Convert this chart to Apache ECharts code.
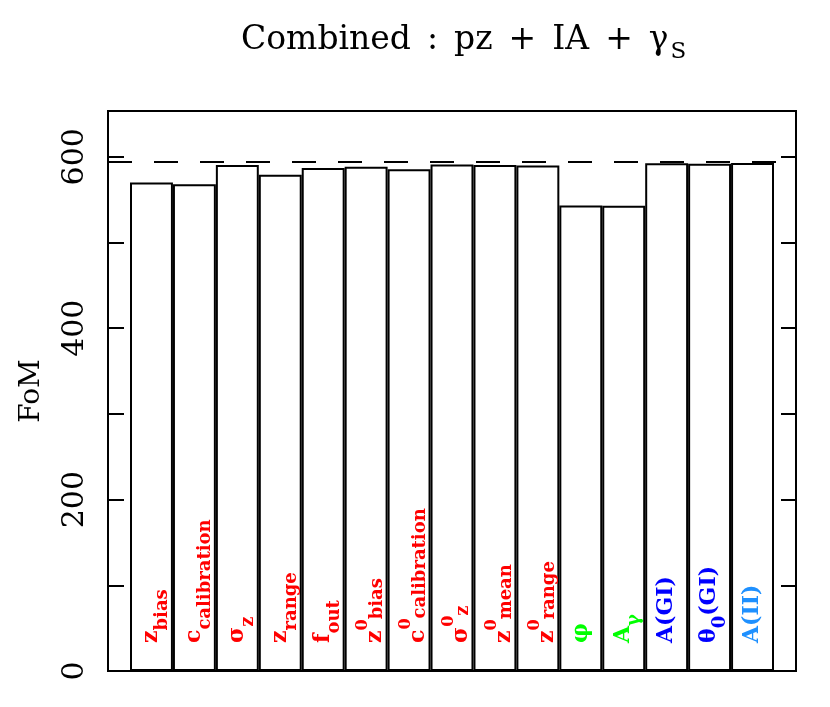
<!DOCTYPE html>
<html>
<head>
<meta charset="utf-8">
<script src="https://cdn.jsdelivr.net/npm/echarts@6/dist/echarts.min.js"></script>
<style>
html,body{margin:0;padding:0;background:#fff;}
#chart{width:830px;height:707px;}
</style>
</head>
<body>
<div id="chart"></div>
<script>
// ---- data ----
var categories = ['z_bias','c_calibration','sigma_z','z_range','f_out','z0_bias','c0_calibration','sigma0_z','z0_mean','z0_range','phi','A_gamma','A(GI)','theta0(GI)','A(II)'];
// label parts: [base, superscript, subscript, tail]
var labelParts = [
  ['z','','bias',''],
  ['c','','calibration',''],
  ['σ','','z',''],
  ['z','','range',''],
  ['f','','out',''],
  ['z','0','bias',''],
  ['c','0','calibration',''],
  ['σ','0','z',''],
  ['z','0','mean',''],
  ['z','0','range',''],
  ['φ','','',''],
  ['A','','γ',''],
  ['A(GI)','','',''],
  ['θ','','0','(GI)'],
  ['A(II)','','','']
];
var paramGroups = ['pz','pz','pz','pz','pz','pz','pz','pz','pz','pz','gamma','gamma','GI','GI','II'];
var fomValues = [570.1, 567.8, 590.3, 579.0, 586.8, 588.3, 585.3, 591.1, 590.3, 589.9, 543.0, 542.8, 592.3, 591.8, 592.6];
var fiducialFoM = 594;
var yMax = 653.4;
var yTickStep = 100;
var yLabelStep = 200;
var titleWords = ['Combined', ':', 'pz', '+', 'IA', '+'];
var titleLast = 'γ';
var titleSub = 'S';
var yName = 'FoM';

// ---- styles ----
var groupColors = {pz:'#ff0000', gamma:'#00ff00', GI:'#0000ff', II:'#1e90ff'};
var FONT = 'DejaVu Serif';

function richLabel(p){
  var mk = p[1] ? 'M' : 'm';
  var s = '{' + mk + '|' + p[0] + '}';
  if (p[1]) s += '{sp|' + p[1] + '}';
  if (p[2]) s += '{sb|' + p[2] + '}';
  if (p[3]) s += '{' + mk + '|' + p[3] + '}';
  return s;
}

var barData = fomValues.map(function(v, i){
  return {
    value: v,
    label: { formatter: richLabel(labelParts[i]), color: groupColors[paramGroups[i]] }
  };
});

var titleText = titleWords.map(function(w){ return '{a|' + w + '}'; }).join('') +
                '{g|' + titleLast + '}{s|' + titleSub + '}';

var chart = echarts.init(document.getElementById('chart'), null, {renderer:'canvas'});
var option = {
  animation: false,
  backgroundColor: '#fff',
  title: {
    text: titleText,
    left: 236, top: 19,
    textStyle: {
      fontWeight: 'normal',
      rich: {
        a: {fontFamily: FONT, fontWeight: 'normal', fontSize: 33, color: '#000', lineHeight: 36, padding:[0,16,0,0], verticalAlign:'top'},
        g: {fontFamily: FONT, fontWeight: 'normal', fontSize: 33, color: '#000', lineHeight: 36, padding:[0,2,0,0], verticalAlign:'top'},
        s: {fontFamily: FONT, fontWeight: 'normal', fontSize: 23, color: '#000', lineHeight: 24, padding:[17,0,0,0], verticalAlign:'top'}
      }
    }
  },
  grid: [
    {left: 130, right: 56, top: 111, bottom: 36, outerBoundsMode: 'none'},
    {left: 108, right: 34, top: 111, bottom: 36, show: true, borderColor: '#000', borderWidth: 2, backgroundColor: 'transparent', outerBoundsMode: 'none'}
  ],
  xAxis: [
    {type: 'category', gridIndex: 0, data: categories, show: false},
    {type: 'value', gridIndex: 1, min: 0, max: 1, show: false}
  ],
  yAxis: [
    {type: 'value', gridIndex: 0, min: 0, max: yMax, show: false},
    {type: 'value', gridIndex: 1, min: 0, max: yMax, interval: yTickStep, position: 'left',
     name: yName, nameLocation: 'middle', nameGap: 62, nameRotate: 90,
     nameTextStyle: {fontFamily: FONT, fontSize: 28, color: '#000', verticalAlign: 'bottom', align: 'center'},
     axisLine: {show: false},
     axisTick: {show: true, inside: true, length: 16, lineStyle: {color: '#000', width: 2}},
     axisLabel: {show: true, rotate: 90, margin: 18, fontFamily: FONT, fontSize: 30, color: '#000',
                 align: 'center', verticalAlign: 'bottom',
                 formatter: function(v){ return (Math.abs(v % yLabelStep) < 1e-6) ? String(v) : ''; }},
     splitLine: {show: false}},
    {type: 'value', gridIndex: 1, min: 0, max: yMax, interval: yTickStep, position: 'right',
     axisLine: {show: false},
     axisTick: {show: true, inside: true, length: 15, lineStyle: {color: '#000', width: 2}},
     axisLabel: {show: false}, splitLine: {show: false}}
  ],
  series: [
    {
      type: 'bar', xAxisIndex: 0, yAxisIndex: 0,
      barWidth: '100%', barCategoryGap: 0,
      data: barData,
      itemStyle: {color: '#fff', borderColor: '#000', borderWidth: 2},
      label: {
        show: true, position: 'insideBottom', rotate: 90, distance: 28,
        align: 'left', verticalAlign: 'middle',
        fontFamily: FONT, fontWeight: 'bold',
        rich: {
          m: {fontFamily: FONT, fontWeight: 'bold', fontSize: 22, lineHeight: 22, padding: [0,0,0,0], verticalAlign: 'top'},
          M: {fontFamily: FONT, fontWeight: 'bold', fontSize: 22, lineHeight: 22, padding: [9,0,0,0], verticalAlign: 'top'},
          sp: {fontFamily: FONT, fontWeight: 'bold', fontSize: 16, lineHeight: 16, padding: [0,0,0,0], verticalAlign: 'top'},
          sb: {fontFamily: FONT, fontWeight: 'bold', fontSize: 18, lineHeight: 18, padding: [13,0,0,0], verticalAlign: 'top'}
        }
      },
      silent: true
    },
    {
      type: 'line', xAxisIndex: 1, yAxisIndex: 1,
      data: [[0, fiducialFoM], [1, fiducialFoM]],
      symbol: 'none',
      lineStyle: {color: '#000', width: 2, type: [24, 22], dashOffset: 0},
      silent: true
    }
  ]
};
chart.setOption(option);
</script>
</body>
</html>
